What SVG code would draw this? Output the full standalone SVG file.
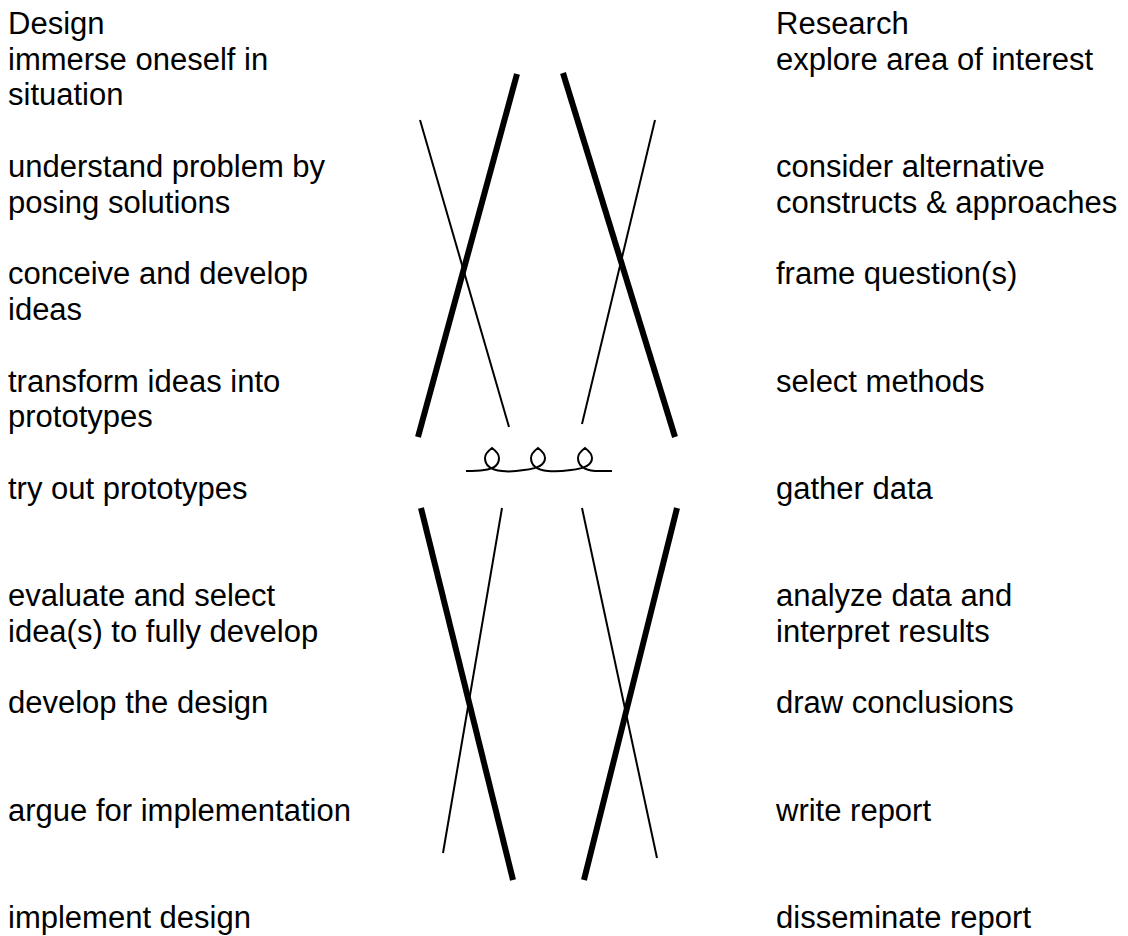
<svg xmlns="http://www.w3.org/2000/svg" width="1128" height="936" viewBox="0 0 1128 936">
<style>
text{font-family:"Liberation Sans",Arial,sans-serif;font-size:31px;fill:#000}
.thick{stroke:#000;stroke-width:6;fill:none}
.thin{stroke:#000;stroke-width:2;fill:none}
</style>
<rect width="1128" height="936" fill="#fff"/>
<g id="design-column">
<text x="8" y="34">Design</text>
<text x="8" y="70">immerse oneself in</text>
<text x="8" y="105">situation</text>
<text x="8" y="177">understand problem by</text>
<text x="8" y="213">posing solutions</text>
<text x="8" y="284">conceive and develop</text>
<text x="8" y="320">ideas</text>
<text x="8" y="392">transform ideas into</text>
<text x="8" y="427">prototypes</text>
<text x="8" y="499">try out prototypes</text>
<text x="8" y="606">evaluate and select</text>
<text x="8" y="642">idea(s) to fully develop</text>
<text x="8" y="713">develop the design</text>
<text x="8" y="821">argue for implementation</text>
<text x="8" y="928">implement design</text>
</g>
<g id="research-column">
<text x="776" y="34">Research</text>
<text x="776" y="70">explore area of interest</text>
<text x="776" y="177">consider alternative</text>
<text x="776" y="213">constructs &amp; approaches</text>
<text x="776" y="284">frame question(s)</text>
<text x="776" y="392">select methods</text>
<text x="776" y="499">gather data</text>
<text x="776" y="606">analyze data and</text>
<text x="776" y="642">interpret results</text>
<text x="776" y="713">draw conclusions</text>
<text x="776" y="821">write report</text>
<text x="776" y="928">disseminate report</text>
</g>
<g id="connectors">
<line class="thick" x1="517" y1="74" x2="418" y2="437"/>
<line class="thin" x1="420" y1="120" x2="509" y2="427"/>
<line class="thick" x1="563" y1="73" x2="675" y2="437"/>
<line class="thin" x1="655" y1="120" x2="582" y2="424"/>
<line class="thick" x1="421" y1="508" x2="513" y2="880"/>
<line class="thin" x1="502" y1="508" x2="443" y2="853"/>
<line class="thin" x1="582" y1="508" x2="657" y2="858"/>
<line class="thick" x1="677" y1="508" x2="584" y2="880"/>
<path class="thin" d="M466,471 C474,471 478,471 484,470 C494,469 499,465 499,458 C499,454 496,451 492,448 C488,451 485,454 485,458 C485,466 492,470 502,471 C510,472 518,471 524,470 C534,469 545,466 545,458 C545,454 542,451 538,448 C534,451 531,454 531,458 C531,466 538,470 548,471 C556,472 564,471 571,470 C581,469 592,466 592,458 C592,454 589,451 585,448 C581,451 578,454 578,458 C578,466 585,470 595,471 C602,471 607,471 612,471"/>
</g>
</svg>
